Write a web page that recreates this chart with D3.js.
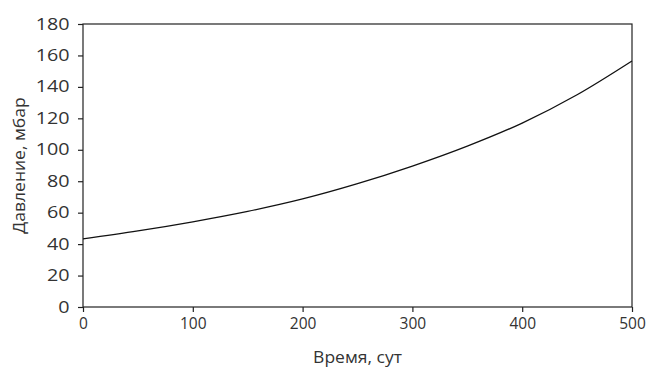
<!DOCTYPE html>
<html>
<head>
<meta charset="utf-8">
<script src="https://cdn.jsdelivr.net/npm/d3@7"></script>
<style>
  body { margin: 0; background: #fff; }
  svg { display: block; font-family: "Open Sans", sans-serif; }
</style>
</head>
<body>
<div id="chart"></div>
<script>
// data
const days = [0, 50, 100, 150, 200, 250, 300, 350, 400, 450, 500];
const pressure = [43.3, 48.4, 54.2, 60.8, 68.7, 78.4, 89.6, 102.3, 117.0, 135.0, 156.5];
const xTicks = [0, 100, 200, 300, 400, 500];
const yTicks = [0, 20, 40, 60, 80, 100, 120, 140, 160, 180];

const width = 647, height = 368;
const margin = { top: 24, right: 15, bottom: 61, left: 83 };

const svg = d3.select("#chart").append("svg")
    .attr("width", width)
    .attr("height", height);

const x = d3.scaleLinear().domain([0, 500]).range([margin.left, width - margin.right]);
const y = d3.scaleLinear().domain([0, 180]).range([height - margin.bottom, margin.top]);

// frame
svg.append("rect")
    .attr("x", x(0))
    .attr("y", y(180))
    .attr("width", x(500) - x(0))
    .attr("height", y(0) - y(180))
    .attr("fill", "none")
    .attr("stroke", "#222")
    .attr("stroke-width", 1.2);

// axes
const xAxis = svg.append("g")
    .attr("transform", `translate(0,${y(0)})`)
    .call(d3.axisBottom(x).tickValues(xTicks).tickSize(5).tickPadding(6));

const yAxis = svg.append("g")
    .attr("transform", `translate(${x(0)},0)`)
    .call(d3.axisLeft(y).tickValues(yTicks).tickSize(5));

[xAxis, yAxis].forEach(g => {
    g.select(".domain").remove();
    g.selectAll(".tick line").attr("stroke", "#222").attr("stroke-width", 1.2);
    g.selectAll(".tick text")
        .attr("fill", "#333")
        .style("font-family", "'Open Sans', sans-serif");
});
xAxis.selectAll(".tick text").style("font-size", "15.5px");
// y labels in the reference are drawn wider than normal
const yStretch = 1.25;
yAxis.selectAll(".tick text")
    .style("font-size", "15.8px")
    .attr("x", -13.5 / yStretch)
    .attr("transform", `scale(${yStretch},1)`);

// curve
const line = d3.line()
    .x((d, i) => x(days[i]))
    .y(d => y(d))
    .curve(d3.curveMonotoneX);

svg.append("path")
    .datum(pressure)
    .attr("d", line)
    .attr("fill", "none")
    .attr("stroke", "#111")
    .attr("stroke-width", 1.3);

// axis titles
const tStretch = 1.13;
svg.append("text")
    .attr("transform", `translate(${(x(0) + x(500)) / 2},363) scale(${tStretch},1)`)
    .attr("text-anchor", "middle")
    .attr("fill", "#333")
    .style("font-size", "15.5px")
    .text("Время, сут");

svg.append("text")
    .attr("transform", `translate(25,${(y(0) + y(180)) / 2}) rotate(-90) scale(${tStretch},1)`)
    .attr("text-anchor", "middle")
    .attr("fill", "#333")
    .style("font-size", "15.5px")
    .text("Давление, мбар");
</script>
</body>
</html>
